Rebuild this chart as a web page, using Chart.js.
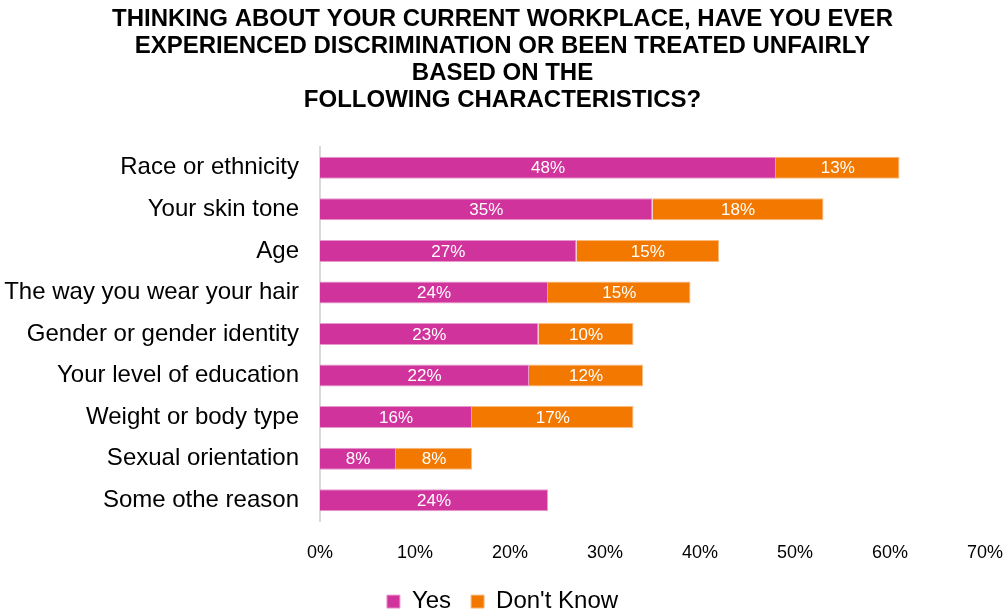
<!DOCTYPE html>
<html>
<head>
<meta charset="utf-8">
<script src="https://cdn.jsdelivr.net/npm/chart.js@4"></script>
<style>
  body { margin: 0; background: #fff; }
  #wrap { width: 1005px; height: 615px; }
</style>
</head>
<body>
<div id="wrap"><canvas id="chart" width="1005" height="615"></canvas></div>
<script>
const categories = [
  'Race or ethnicity',
  'Your skin tone',
  'Age',
  'The way you wear your hair',
  'Gender or gender identity',
  'Your level of education',
  'Weight or body type',
  'Sexual orientation',
  'Some othe reason'
];
const yesValues = [48, 35, 27, 24, 23, 22, 16, 8, 24];
const dontKnowValues = [13, 18, 15, 15, 10, 12, 17, 8, null];
const titleLines = [
  'THINKING ABOUT YOUR CURRENT WORKPLACE, HAVE YOU EVER',
  'EXPERIENCED DISCRIMINATION OR BEEN TREATED UNFAIRLY',
  'BASED ON THE',
  'FOLLOWING CHARACTERISTICS?'
];

const FONT = "Arial, 'Liberation Sans', sans-serif";

// draws the % labels in the middle of each bar segment
const barLabels = {
  id: 'barLabels',
  afterDatasetsDraw(chart) {
    const ctx = chart.ctx;
    ctx.save();
    ctx.font = '17px ' + FONT;
    ctx.fillStyle = '#ffffff';
    ctx.textAlign = 'center';
    ctx.textBaseline = 'middle';
    chart.data.datasets.forEach((ds, i) => {
      const meta = chart.getDatasetMeta(i);
      meta.data.forEach((bar, j) => {
        const v = ds.data[j];
        if (v == null) return;
        const p = bar.getProps(['x', 'y', 'base'], true);
        ctx.fillText(v + '%', (p.x + p.base) / 2, p.y + 1);
      });
    });
    ctx.restore();
  }
};

new Chart(document.getElementById('chart').getContext('2d'), {
  type: 'bar',
  data: {
    labels: categories,
    datasets: [
      {
        label: 'Yes',
        data: yesValues,
        backgroundColor: '#D0339C',
        borderColor: '#E79ACD',
        borderWidth: 1,
        categoryPercentage: 0.53,
        barPercentage: 1
      },
      {
        label: "Don't Know",
        data: dontKnowValues,
        backgroundColor: '#F27800',
        borderColor: '#F8BB80',
        borderWidth: 1,
        categoryPercentage: 0.53,
        barPercentage: 1
      }
    ]
  },
  options: {
    indexAxis: 'y',
    responsive: false,
    animation: false,
    layout: { padding: { left: 0, right: 0, top: 0, bottom: 0 } },
    scales: {
      x: {
        stacked: true,
        min: 0,
        max: 70,
        grid: { display: false },
        border: { display: false },
        ticks: {
          stepSize: 10,
          padding: 13,
          color: '#000',
          font: { family: FONT, size: 18 },
          callback: v => v + '%'
        },
        afterFit(scale) {
          scale.height = 48.6;
          scale.paddingRight = 20;
        }
      },
      y: {
        stacked: true,
        grid: { display: false },
        border: { display: true, color: '#d9d9d9', width: 2 },
        ticks: {
          color: '#000',
          padding: 13,
          font: { family: FONT, size: 24 }
        },
        afterFit(scale) { scale.width = 320; }
      }
    },
    plugins: {
      title: {
        display: true,
        text: titleLines,
        color: '#000',
        font: { family: FONT, size: 24, weight: 'bold', lineHeight: 1.125 },
        padding: { top: 6, bottom: 33 }
      },
      legend: {
        position: 'bottom',
        maxHeight: 45.4,
        labels: {
          color: '#000',
          font: { family: FONT, size: 24 },
          boxWidth: 13,
          boxHeight: 13,
          padding: 20
        }
      },
      tooltip: { enabled: false }
    }
  },
  plugins: [barLabels]
});
</script>
</body>
</html>
